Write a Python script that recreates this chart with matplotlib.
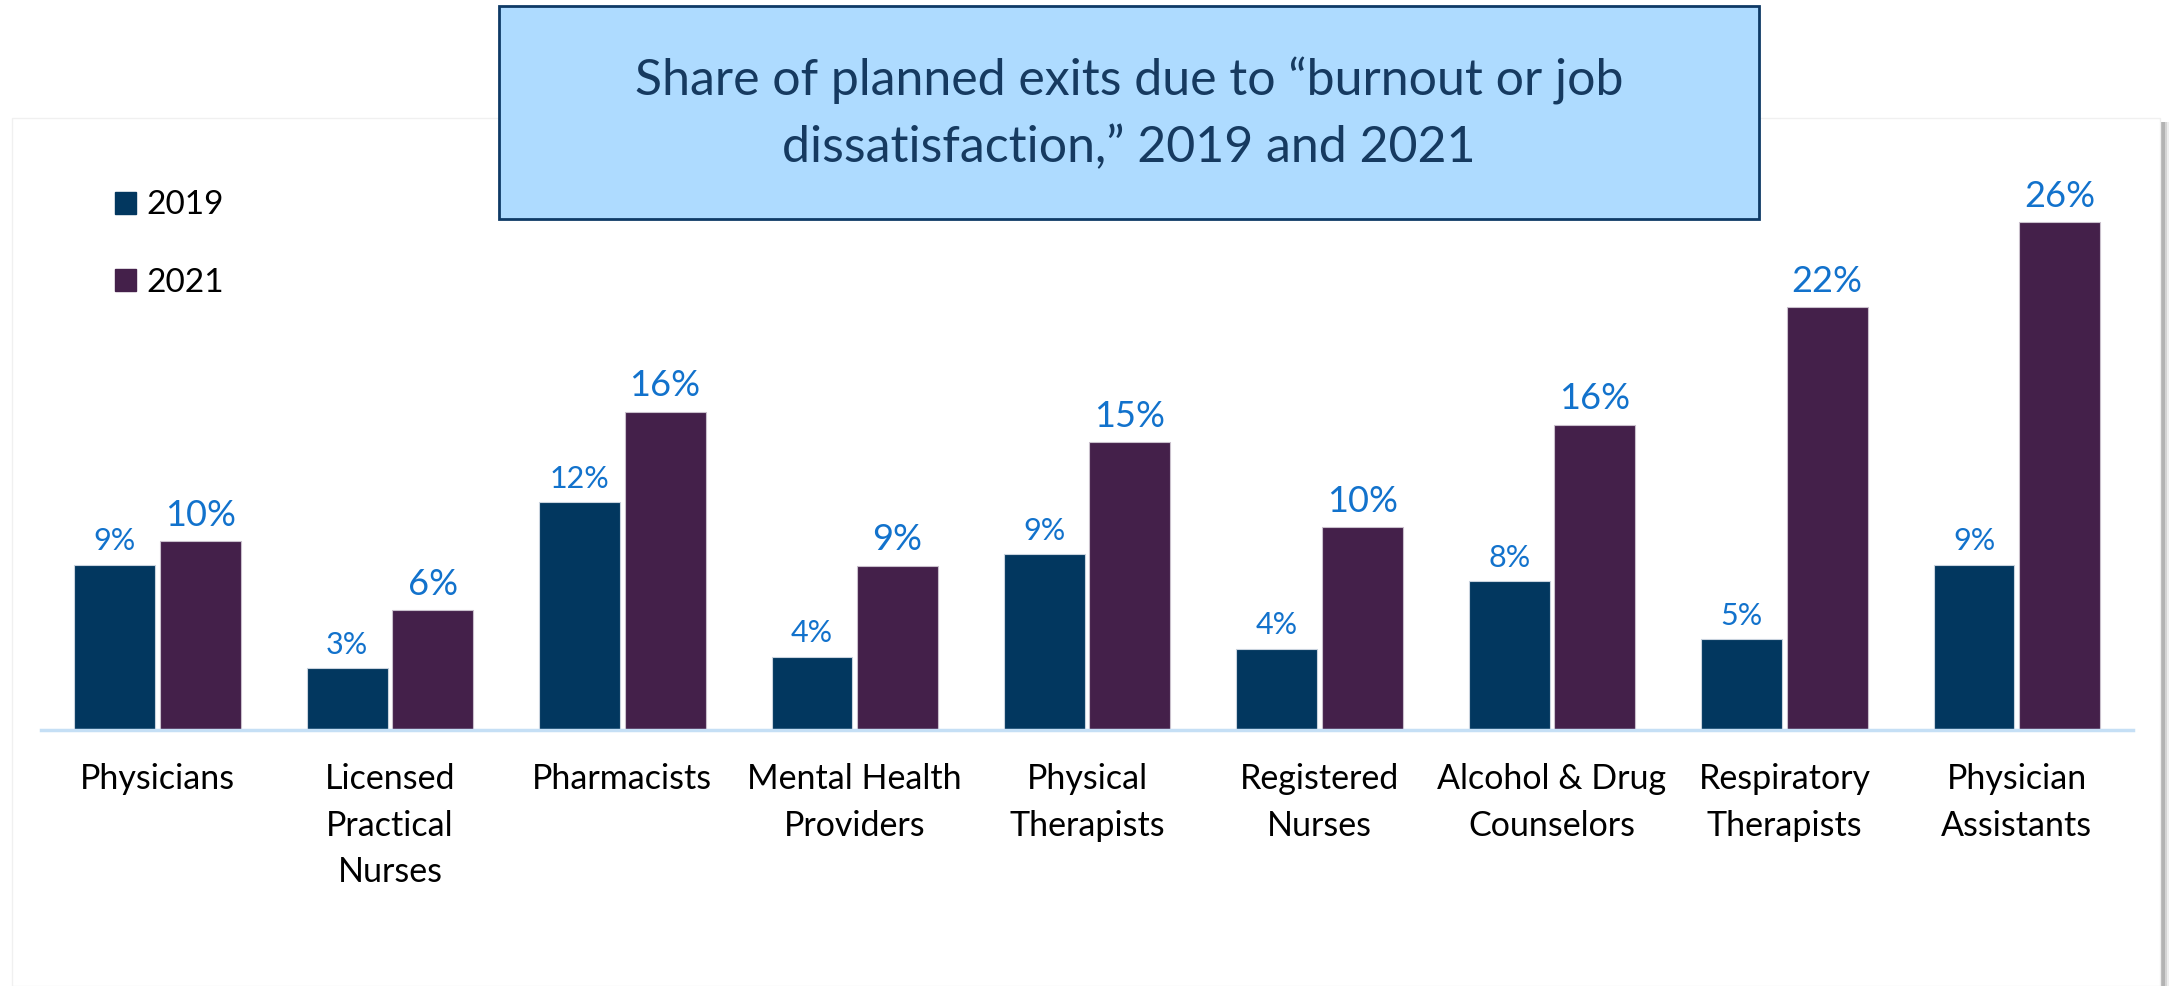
from matplotlib import pyplot as plt
from matplotlib.patches import Rectangle, Patch
import numpy as np

plt.rcParams['font.family'] = ['Lato', 'DejaVu Sans']

categories = ["Physicians", "Licensed\nPractical\nNurses", "Pharmacists",
              "Mental Health\nProviders", "Physical\nTherapists",
              "Registered\nNurses", "Alcohol & Drug\nCounselors",
              "Respiratory\nTherapists", "Physician\nAssistants"]

# bar heights (percent)
share_2019 = [8.55, 3.2, 11.8, 3.8, 9.1, 4.2, 7.7, 4.7, 8.55]
share_2021 = [9.77, 6.2, 16.5, 8.5, 14.9, 10.5, 15.8, 21.9, 26.3]
# data labels as printed
labels_2019 = [9, 3, 12, 4, 9, 4, 8, 5, 9]
labels_2021 = [10, 6, 16, 9, 15, 10, 16, 22, 26]

c_2019 = "#02375F"
c_2021 = "#44204A"
c_label = "#1272CC"

W, H = 2175, 986
fig = plt.figure(figsize=(W / 100, H / 100), dpi=100)
fig.patch.set_facecolor("white")

# white panel with a soft shadow on the right
for i, a in enumerate([0.10, 0.18, 0.28]):
    fig.patches.append(Rectangle(((12 + 7 - i * 2) / W, 0), 2150 / W, (H - 118 - 4) / H,
                                 transform=fig.transFigure, facecolor="#606060",
                                 alpha=a, edgecolor="none", zorder=-3))
fig.patches.append(Rectangle((12 / W, 0), 2148 / W, (H - 118) / H,
                             transform=fig.transFigure, facecolor="white",
                             edgecolor="#f0f0f0", linewidth=1, zorder=-2))

ax = fig.add_axes([41.3 / W, (H - 730) / H, (2133 - 41.3) / W, 579 / H])
ax.set_facecolor("none")
x = np.arange(len(categories))
w = 0.348
ax.bar(x - 0.184, share_2019, w, color=c_2019, edgecolor="#c9d3de", linewidth=0.8,
       label="2019", zorder=2)
ax.bar(x + 0.184, share_2021, w, color=c_2021, edgecolor="#c9c0cc", linewidth=0.8,
       label="2021", zorder=2)

for xi, v, t in zip(x, share_2019, labels_2019):
    ax.annotate(f"{t}%", (xi - 0.184, v), xytext=(0, 7), textcoords="offset points",
                ha="center", va="bottom", color=c_label, fontsize=22)
for xi, v, t in zip(x, share_2021, labels_2021):
    ax.annotate(f"{t}%", (xi + 0.184, v), xytext=(0, 7), textcoords="offset points",
                ha="center", va="bottom", color=c_label, fontsize=26)

ax.set_xlim(-0.5, 8.5)
ax.set_ylim(0, 30)
ax.set_yticks([])
ax.set_xticks(x)
ax.set_xticklabels(categories, fontsize=24.5, linespacing=1.55)
ax.tick_params(axis="x", length=0, pad=24)
for s in ["top", "right", "left"]:
    ax.spines[s].set_visible(False)
ax.spines["bottom"].set_color("#C5DFF5")
ax.spines["bottom"].set_linewidth(2.5)

handles = [Patch(color=c_2019, label="2019"), Patch(color=c_2021, label="2021")]
fig.legend(handles=handles, loc="center left", bbox_to_anchor=(115 / W, 1 - 244 / H),
           frameon=False, fontsize=24, handlelength=0.63, handleheight=0.63,
           handletextpad=0.3, labelspacing=1.42, borderpad=0, borderaxespad=0)

# title box
fig.patches.append(Rectangle((499 / W, 1 - 219 / H), (1759 - 499) / W, (219 - 5.5) / H,
                             transform=fig.transFigure, facecolor="#AEDBFF",
                             edgecolor="#0E3A66", linewidth=2, zorder=5))
fig.text(1129 / W, 1 - 114 / H,
         "Share of planned exits due to \u201cburnout or job\ndissatisfaction,\u201d 2019 and 2021",
         ha="center", va="center", fontsize=36, color="#163A60", linespacing=1.55, zorder=6)

plt.savefig("out.png", dpi=100)
